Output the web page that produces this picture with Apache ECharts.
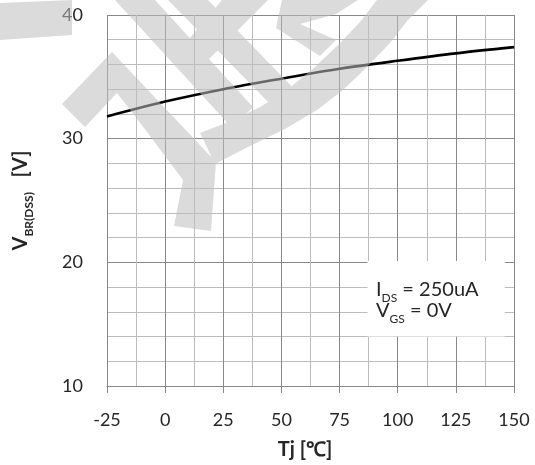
<!DOCTYPE html>
<html>
<head>
<meta charset="utf-8">
<script src="https://cdn.jsdelivr.net/npm/echarts@6/dist/echarts.min.js"></script>
<style>
  html, body { margin: 0; padding: 0; background: #fff; }
  #chart { width: 535px; height: 465px; }
</style>
</head>
<body>
<div id="chart"></div>
<script>
// Breakdown voltage vs. junction temperature
const tempC = [-25, 0, 25, 50, 75, 100, 125, 150];
const vbrDss = [31.8, 33.0, 34.0, 34.85, 35.65, 36.3, 36.9, 37.4];
const xTicks = [-25, 0, 25, 50, 75, 100, 125, 150];
const yTicks = [10, 20, 30, 40];
const condIds = '250uA';
const condVgs = '0V';

const FONT = 'Lato, "Open Sans", sans-serif';
const TEXT = '#262626';
const MAJOR = '#888888';
const MINOR = '#bcbcbc';

// Light grey background stamp, painted once to an offscreen canvas
function stampImage() {
  const c = document.createElement('canvas');
  c.width = 535; c.height = 465;
  const g = c.getContext('2d');
  g.fillStyle = 'rgb(190,190,190)';
  const poly = pts => {
    g.beginPath();
    g.moveTo(pts[0][0], pts[0][1]);
    for (let i = 1; i < pts.length; i++) g.lineTo(pts[i][0], pts[i][1]);
    g.closePath();
    g.fill();
  };
  poly([[0, 3], [72, 0], [72, 35], [0, 40]]);
  // chevron + stem
  poly([[62, 104], [112, 52], [216, 162], [211, 231], [174, 226], [183, 180], [138, 120], [117, 93], [85, 127]]);
  // diagonal strokes at the top
  poly([[115, 0], [155, 0], [253, 107], [232, 128]]);
  poly([[168, 0], [208, 0], [300, 95], [278, 112]]);
  poly([[222, 0], [268, 0], [196, 72], [178, 52]]);
  poly([[282, 0], [358, 0], [336, 14], [300, 24], [336, 40], [320, 56], [276, 28]]);
  // arc
  poly([[377, 0], [360, 22], [340, 43], [315, 67], [287, 90], [260, 107], [233, 120], [200, 133],
        [215, 164], [250, 146], [285, 129], [317, 110], [343, 90], [367, 67], [390, 43], [408, 20], [428, 0]]);
  return c.toDataURL();
}

const chart = echarts.init(document.getElementById('chart'), null, { renderer: 'canvas' });

const axisCommon = {
  type: 'value',
  axisLine: { show: true, lineStyle: { color: MAJOR, width: 1 } },
  axisTick: { show: true, inside: false, length: 7, lineStyle: { color: MAJOR } },
  splitLine: { show: true, lineStyle: { color: MAJOR, width: 1 } },
  minorSplitLine: { show: true, lineStyle: { color: MINOR, width: 1 } },
  axisLabel: { color: TEXT, fontFamily: FONT, fontSize: 18 }
};

const subRich = (size, subSize, bold) => ({
  m: { fontFamily: FONT, fontWeight: bold ? 'bold' : 'normal', fontSize: size, color: TEXT, fill: TEXT, verticalAlign: 'top', lineHeight: size + 4 },
  s: { fontFamily: FONT, fontWeight: bold ? 'bold' : 'normal', fontSize: subSize, color: TEXT, fill: TEXT, verticalAlign: 'bottom', lineHeight: size + 4 }
});

chart.setOption({
  animation: false,
  backgroundColor: '#fff',
  grid: { left: 107, right: 21, top: 15, bottom: 78, containLabel: false, show: false },
  xAxis: Object.assign({}, axisCommon, {
    min: xTicks[0], max: xTicks[xTicks.length - 1], interval: 25,
    minorTick: { show: false, splitNumber: 2 },
    axisLabel: Object.assign({}, axisCommon.axisLabel, { margin: 25 }),
    name: 'Tj [℃]',
    nameLocation: 'middle',
    nameGap: 54,
    nameTextStyle: { fontFamily: FONT, fontWeight: 'bold', fontSize: 20, color: TEXT, padding: [0, 11, 0, 0] }
  }),
  yAxis: Object.assign({}, axisCommon, {
    min: yTicks[0], max: yTicks[yTicks.length - 1], interval: 10,
    minorTick: { show: false, splitNumber: 5 },
    axisLabel: Object.assign({}, axisCommon.axisLabel, { margin: 24 }),
    name: '{m|V}{s|BR(DSS)}{m|   [V]}',
    nameLocation: 'middle',
    nameGap: 72,
    nameTextStyle: { color: TEXT, rich: subRich(20, 12, true) }
  }),
  series: [{
    type: 'line',
    data: tempC.map((t, i) => [t, vbrDss[i]]),
    smooth: 0.3,
    showSymbol: false,
    lineStyle: { color: '#000', width: 2.6 },
    markArea: {
      silent: true,
      itemStyle: { color: '#fff', opacity: 1 },
      data: [[{ xAxis: 87, yAxis: 14 }, { xAxis: 146, yAxis: 20.1 }]]
    },
    z: 3
  }],
  graphic: [
    {
      type: 'text', left: 376, top: 280, z: 10,
      style: { text: '{m|I}{s|DS}{m| = ' + condIds + '}', rich: subRich(20, 12, false) }
    },
    {
      type: 'text', left: 376, top: 301, z: 10,
      style: { text: '{m|V}{s|GS}{m| = ' + condVgs + '}', rich: subRich(20, 12, false) }
    },
    {
      type: 'image', left: 0, top: 0, z: 20, silent: true,
      style: { image: stampImage(), width: 535, height: 465, opacity: 0.55 }
    }
  ]
});
</script>
</body>
</html>
